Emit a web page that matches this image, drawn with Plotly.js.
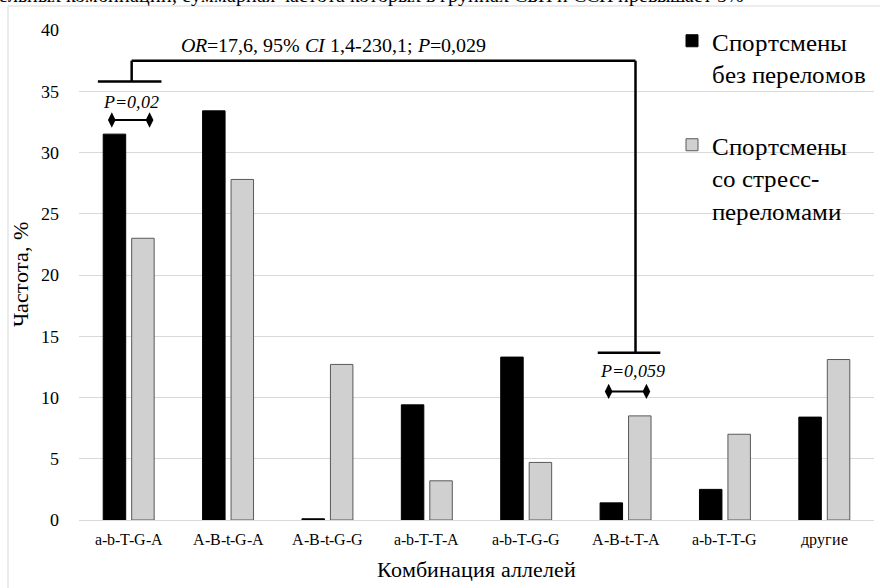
<!DOCTYPE html>
<html>
<head>
<meta charset="utf-8">
<script src="https://cdn.plot.ly/plotly-3.0.1.min.js"></script>
<style>
@font-face { font-family: 'LSerif'; font-style: normal; font-weight: 400; src: local('Liberation Serif'), local('LiberationSerif'); }
@font-face { font-family: 'LSerif'; font-style: italic; font-weight: 400; src: local('Liberation Serif Italic'), local('LiberationSerif-Italic'); }
html,body{margin:0;padding:0;background:#fff;}#chart{width:880px;height:588px;}
</style>
</head>
<body>
<div id="chart"></div>
<script>
const categories = ['a-b-T-G-A','A-B-t-G-A','A-B-t-G-G','a-b-T-T-A','a-b-T-G-G','A-B-t-T-A','a-b-T-T-G','другие'];
const noFracture = [31.5, 33.4, 0.1, 9.4, 13.3, 1.4, 2.5, 8.4];
const stressFracture = [23.0, 27.8, 12.7, 3.2, 4.7, 8.5, 7.0, 13.1];
const yTickValues = [0, 5, 10, 15, 20, 25, 30, 35, 40];
const seriesNames = ['Спортсмены<br>без переломов', 'Спортсмены<br>со стресс-<br>переломами'];
const axisTitles = {x: 'Комбинация аллелей', y: 'Частота, %'};
const cutTitle = 'Частота аллельных комбинаций, суммарная частота которых в группах СБП и ССП превышает 5%';
const orText = '<i>OR</i>=17,6, 95% <i>CI</i> 1,4-230,1; <i>P</i>=0,029';
const pLabels = ['<i>P=0,02</i>', '<i>P=0,059</i>'];

const FONT = 'LSerif, Liberation Serif, Times New Roman, serif';

const traces = [
  {type:'bar', x:categories, y:noFracture, name:seriesNames[0], legendgroup:'a',
   marker:{color:'#000000', line:{color:'#000000', width:1}}},
  {type:'bar', x:categories, y:stressFracture, name:seriesNames[1], legendgroup:'b',
   marker:{color:'#d0d0d0', line:{color:'#595959', width:1}}},
  {type:'scatter', xaxis:'x2', x:[-0.17, 0.21], y:[32.65, 32.65], mode:'lines+markers', showlegend:false,
   line:{color:'#000', width:2}, marker:{symbol:'diamond-tall', size:11, color:'#000'}, hoverinfo:'skip'},
  {type:'scatter', xaxis:'x2', x:[4.83, 5.21], y:[10.5, 10.5], mode:'lines+markers', showlegend:false,
   line:{color:'#000', width:2}, marker:{symbol:'diamond-tall', size:11, color:'#000'}, hoverinfo:'skip'}
];

const lineStyle = {color:'#000', width:2.5};
const layout = {
  width:880, height:588,
  margin:{l:79, r:6, t:30, b:68},
  paper_bgcolor:'#fff', plot_bgcolor:'#fff',
  font:{family:FONT, color:'#000', size:16},
  barmode:'group', bargap:0.427, bargroupgap:0.21,
  showlegend:true,
  legend:{x:(672-79)/795, xanchor:'left', y:(520-18)/490, yanchor:'top', bgcolor:'rgba(0,0,0,0)',
          font:{family:FONT, size:25, color:'#000'}, itemwidth:30, tracegroupgap:36, valign:'top',
          traceorder:'grouped'},
  xaxis:{type:'category', range:[-0.5, 7.5], showgrid:false, showline:false, zeroline:false,
         ticks:'', tickfont:{family:FONT, size:16, color:'#000'}, ticklabelstandoff:8,
         title:{text:axisTitles.x, font:{family:FONT, size:22, color:'#000'}, standoff:14}},
  xaxis2:{overlaying:'x', range:[-0.5, 7.5], visible:false},
  yaxis:{range:[0, 40], tickvals:yTickValues, showgrid:true, gridcolor:'#d9d9d9', gridwidth:1,
         zeroline:true, zerolinecolor:'#d9d9d9', zerolinewidth:1, showline:false, ticks:'',
         tickfont:{family:FONT, size:18, color:'#000'}, ticklabelstandoff:19,
         title:{text:axisTitles.y, font:{family:FONT, size:22, color:'#000'}, standoff:6}},
  shapes:[
    {type:'rect', xref:'paper', yref:'paper', x0:(8-79)/795, x1:(895-79)/795, y0:(520-600)/490, y1:(520-6)/490,
     line:{color:'#d9d9d9', width:1}, fillcolor:'rgba(0,0,0,0)', layer:'below'},
    {type:'line', xref:'x2', yref:'y', x0:-0.31, x1:0.33, y0:35.8, y1:35.8, line:lineStyle},
    {type:'line', xref:'x2', yref:'y', x0:0.03, x1:0.03, y0:35.8, y1:37.5, line:lineStyle},
    {type:'line', xref:'x2', yref:'y', x0:0.03, x1:5.1, y0:37.5, y1:37.5, line:lineStyle},
    {type:'line', xref:'x2', yref:'y', x0:5.1, x1:5.1, y0:37.5, y1:13.66, line:lineStyle},
    {type:'line', xref:'x2', yref:'y', x0:4.72, x1:5.35, y0:13.66, y1:13.66, line:lineStyle}
  ],
  annotations:[
    {xref:'paper', yref:'paper', x:(-105-79)/795, xanchor:'left', y:(520-8)/490, yanchor:'bottom',
     text:cutTitle, showarrow:false, font:{family:FONT, size:20, color:'#000'}},
    {xref:'x2', yref:'y', x:2.06, y:38.8, text:orText, showarrow:false, font:{family:FONT, size:20, color:'#000'}},
    {xref:'x2', yref:'y', x:0.02, y:34.1, text:pLabels[0], showarrow:false, font:{family:FONT, size:18, color:'#000'}},
    {xref:'x2', yref:'y', x:5.07, y:12.2, text:pLabels[1], showarrow:false, font:{family:FONT, size:18, color:'#000'}}
  ]
};

const gd = document.getElementById('chart');
Plotly.newPlot(gd, traces, layout, {displayModeBar:false, staticPlot:true});
if (document.fonts && document.fonts.load) {
  Promise.all([
    document.fonts.load('25px LSerif', 'Спортсмены'),
    document.fonts.load('italic 18px LSerif', 'P=0,02')
  ]).then(function(){ Plotly.redraw(gd); }).catch(function(){});
}
</script>
</body>
</html>
